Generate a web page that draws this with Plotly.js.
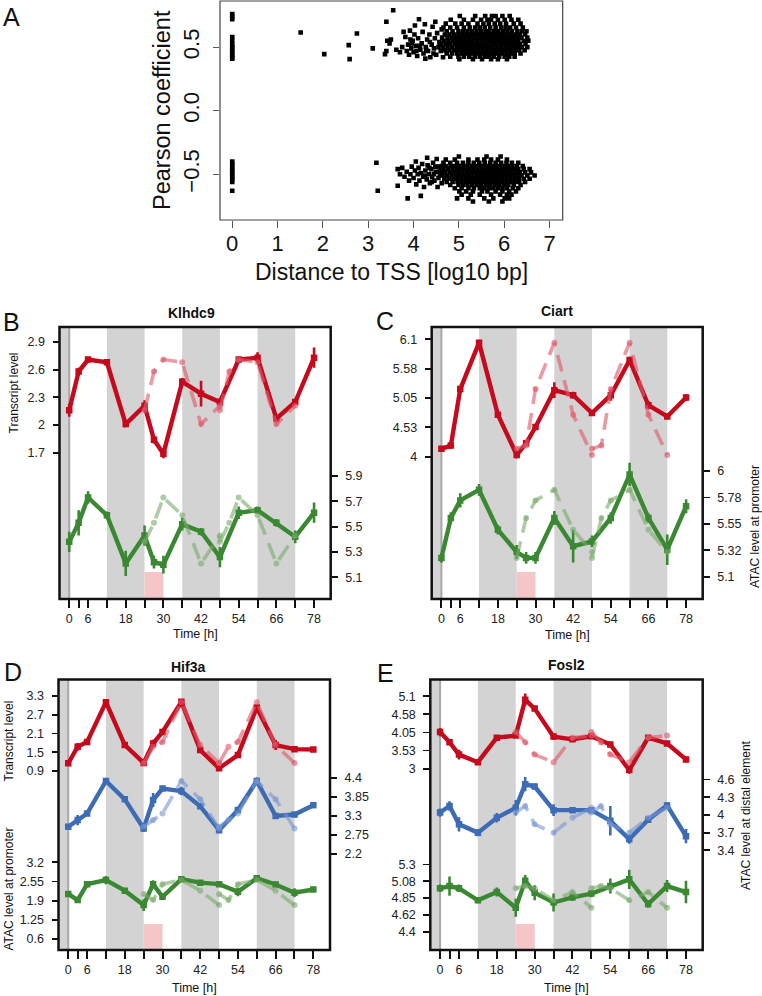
<!DOCTYPE html>
<html><head><meta charset="utf-8">
<script src="https://cdn.plot.ly/plotly-3.0.1.min.js"></script>
<style>html,body{margin:0;padding:0;background:#fff;}#chart{width:762px;height:996px;}</style>
</head><body><div id="chart"></div>
<script>
// ================= Panel A data =================
const tssZeroUpper = [0.76,0.74,0.72,0.58,0.55,0.52,0.5,0.48,0.46,0.44,0.42,0.41];
const tssZeroLower = [-0.4,-0.42,-0.44,-0.46,-0.48,-0.5,-0.52,-0.54,-0.56,-0.63];
const upperSparse = [[1.51,0.615],[2.03,0.445],[2.57,0.516],[2.59,0.406],[2.75,0.607],[3.1,0.49],[3.4,0.7],[3.55,0.79],[3.37,0.445],[3.42,0.55],[3.47,0.53],[3.5,0.56],[3.4,0.47],
 [3.62,0.48],[3.7,0.46],[3.75,0.5],[3.78,0.62],[3.82,0.58],[3.85,0.47],[3.88,0.52],[3.9,0.44],[3.92,0.63],[3.95,0.49],[3.98,0.55],[4.0,0.46],[4.02,0.6],[4.05,0.51],[4.08,0.43],[4.1,0.57],[4.12,0.72],[4.15,0.48],[4.18,0.53],[4.2,0.62],[4.22,0.45],[4.25,0.68],[4.27,0.5],[4.3,0.56],[4.32,0.47],[4.35,0.6],[4.37,0.42],[4.4,0.52],[4.42,0.66],[4.45,0.49],[4.47,0.57],[4.5,0.44],[4.52,0.61],[4.55,0.5],[4.57,0.54],[4.6,0.47],[4.62,0.64],[4.65,0.42],[4.03,0.67],[3.93,0.56],[4.26,0.41],[4.48,0.7],[4.58,0.52],[4.44,0.45],[4.36,0.54],[4.28,0.48],[4.14,0.51],[4.06,0.47],[3.96,0.53]];
const upperCloudY = [0.745,0.715,0.685,0.655,0.625,0.6,0.575,0.55,0.525,0.5,0.475,0.45,0.425,0.405];
const upperCloudX = [
 [5.02,5.36,5.58,5.73,5.81,5.96,6.12],
 [4.82,5.11,5.31,5.49,5.63,5.71,5.86,6.01,6.16,6.31],
 [4.71,4.92,5.06,5.21,5.41,5.54,5.66,5.79,5.91,6.04,6.21,6.36],
 [4.66,4.81,4.96,5.11,5.24,5.36,5.46,5.57,5.69,5.81,5.93,6.03,6.13,6.26,6.41],
 [4.73,4.86,4.99,5.09,5.19,5.29,5.39,5.49,5.59,5.67,5.77,5.87,5.97,6.07,6.17,6.29,6.39,6.49],
 [4.69,4.79,4.89,4.99,5.08,5.17,5.26,5.35,5.44,5.53,5.62,5.71,5.8,5.89,5.98,6.07,6.16,6.25,6.34,6.46],
 [4.63,4.75,4.85,4.94,5.03,5.12,5.21,5.3,5.39,5.48,5.57,5.66,5.75,5.84,5.93,6.02,6.11,6.2,6.29,6.38,6.51],
 [4.67,4.77,4.87,4.96,5.05,5.14,5.23,5.32,5.41,5.5,5.59,5.68,5.77,5.86,5.95,6.04,6.13,6.22,6.31,6.43,6.53],
 [4.61,4.71,4.81,4.91,5.0,5.09,5.18,5.27,5.36,5.45,5.54,5.63,5.72,5.81,5.9,5.99,6.08,6.17,6.26,6.35,6.47],
 [4.65,4.75,4.85,4.95,5.04,5.13,5.22,5.31,5.4,5.49,5.58,5.67,5.76,5.85,5.94,6.03,6.12,6.21,6.3,6.39,6.51],
 [4.69,4.79,4.89,4.98,5.07,5.16,5.25,5.34,5.43,5.52,5.61,5.7,5.79,5.88,5.97,6.06,6.15,6.24,6.33,6.45],
 [4.73,4.85,4.96,5.06,5.15,5.24,5.33,5.42,5.51,5.6,5.69,5.78,5.87,5.96,6.05,6.14,6.23,6.36],
 [4.81,4.99,5.11,5.23,5.35,5.46,5.57,5.67,5.77,5.89,6.01,6.11,6.23],
 [5.01,5.31,5.51,5.71,5.86,6.06]
];
const lowerSparse = [[3.65,-0.46],[3.7,-0.5],[3.75,-0.45],[3.8,-0.52],[3.85,-0.48],[3.9,-0.55],[3.93,-0.5],[3.96,-0.44],[4.0,-0.53],[4.03,-0.47],[4.06,-0.58],[4.09,-0.5],[4.11,-0.45],[4.13,-0.55],[4.16,-0.49],[4.19,-0.42],[4.21,-0.52],[4.23,-0.6],[4.26,-0.47],[4.29,-0.54],[4.31,-0.43],[4.34,-0.5],[4.36,-0.57],[4.39,-0.46],[4.41,-0.52],[4.43,-0.41],[4.46,-0.55],[4.49,-0.48],[4.51,-0.38],[4.53,-0.6],[4.56,-0.44],[4.58,-0.51],[4.6,-0.47],[4.62,-0.57],[3.87,-0.69],[4.16,-0.67],[3.65,-0.59],[3.21,-0.63],[3.18,-0.41],[4.05,-0.4],[4.3,-0.37],[4.45,-0.5],[4.55,-0.53],[4.35,-0.45],[4.25,-0.51],[4.48,-0.44],[4.57,-0.48],[4.4,-0.56]];
const lowerCloudY = [-0.36,-0.385,-0.41,-0.435,-0.46,-0.485,-0.51,-0.535,-0.56,-0.585,-0.61,-0.635,-0.66,-0.69,-0.715];
const lowerCloudX = [
 [5.0,5.61,5.92],
 [4.71,4.91,5.21,5.41,5.56,5.71,5.86,6.06],
 [4.66,4.81,4.96,5.09,5.21,5.33,5.45,5.57,5.69,5.81,5.93,6.05,6.17,6.31],
 [4.62,4.72,4.82,4.92,5.01,5.1,5.19,5.28,5.37,5.46,5.55,5.64,5.73,5.82,5.91,6.0,6.09,6.18,6.28,6.41],
 [4.66,4.76,4.86,4.96,5.05,5.14,5.23,5.32,5.41,5.5,5.59,5.68,5.77,5.86,5.95,6.04,6.13,6.22,6.31,6.43,6.56],
 [4.6,4.7,4.8,4.9,4.99,5.08,5.17,5.26,5.35,5.44,5.53,5.62,5.71,5.8,5.89,5.98,6.07,6.16,6.25,6.34,6.46,6.59],
 [4.64,4.74,4.84,4.94,5.03,5.12,5.21,5.3,5.39,5.48,5.57,5.66,5.75,5.84,5.93,6.02,6.11,6.2,6.29,6.38,6.51,6.67],
 [4.68,4.78,4.88,4.97,5.06,5.15,5.24,5.33,5.42,5.51,5.6,5.69,5.78,5.87,5.96,6.05,6.14,6.23,6.32,6.43,6.56],
 [4.73,4.86,4.97,5.06,5.15,5.24,5.33,5.42,5.51,5.6,5.69,5.78,5.87,5.96,6.05,6.14,6.23,6.33,6.46],
 [4.81,4.99,5.09,5.19,5.29,5.39,5.49,5.59,5.69,5.79,5.89,5.99,6.09,6.21,6.36],
 [4.91,5.06,5.21,5.33,5.46,5.56,5.66,5.76,5.86,5.96,6.06,6.19,6.31],
 [5.01,5.16,5.31,5.51,5.63,5.81,5.96,6.11,6.26],
 [5.06,5.26,5.46,5.71,5.91,6.06,6.16],
 [4.96,5.21,5.56,5.76,6.01,6.11],
 [5.31,5.66,5.96]
];
const distTicks = [0,1,2,3,4,5,6,7];
const pearsonTicks = [-0.5,0,0.5];
const pearsonTickText = ['\u22120.5','0.0','0.5'];

// ================= Time series data =================
const hours = [0,3,6,12,18,24,27,30,36,42,48,54,60,66,72,78];
const fadedHours = [24,27,30,36,42,48,null,48,51,54,60,66,72];
const timeTicks = [0,3,6,12,18,24,30,36,42,48,54,60,66,72,78];
const timeTickText = ['0','','6','','18','','30','','42','','54','','66','','78'];

// B Klhdc9
const klhdc9Transcript = [2.16,2.58,2.71,2.68,2.01,2.21,1.84,1.69,2.47,2.34,2.25,2.71,2.73,2.07,2.25,2.73];
const klhdc9TranscriptErr = [0.07,0.04,0.03,0.03,0.03,0.06,0.04,0.05,0.04,0.14,0.04,0.03,0.06,0.04,0.03,0.11];
const klhdc9TranscriptFaded = [2.16,2.58,2.71,2.68,2.01,2.21,null,2.16,2.58,2.71,2.68,2.01,2.21];
const klhdc9Promoter = [5.38,5.53,5.73,5.59,5.21,5.43,5.22,5.20,5.52,5.46,5.26,5.61,5.63,5.53,5.42,5.61];
const klhdc9PromoterErr = [0.08,0.1,0.05,0.03,0.1,0.08,0.05,0.07,0.05,0.03,0.08,0.05,0.03,0.03,0.05,0.08];
const klhdc9PromoterFaded = [5.38,5.53,5.73,5.59,5.21,5.43,null,5.38,5.53,5.73,5.59,5.21,5.43];
const klhdc9TranscriptTicks = [1.7,2,2.3,2.6,2.9];
const klhdc9PromoterTicks = [5.1,5.3,5.5,5.7,5.9];

// C Ciart
const ciartTranscript = [4.14,4.20,5.21,6.04,4.75,4.03,4.24,4.53,5.19,5.10,4.78,5.10,5.73,4.92,4.72,5.06];
const ciartTranscriptErr = [0.04,0.06,0.05,0.05,0.04,0.05,0.04,0.04,0.14,0.06,0.05,0.1,0.06,0.07,0.04,0.06];
const ciartTranscriptFaded = [4.14,4.20,5.21,6.04,4.75,4.03,null,4.14,4.20,5.21,6.04,4.75,4.03];
const ciartPromoter = [5.26,5.60,5.75,5.84,5.50,5.31,5.26,5.26,5.60,5.36,5.40,5.60,5.97,5.60,5.33,5.70];
const ciartPromoterErr = [0.04,0.05,0.06,0.05,0.04,0.06,0.05,0.05,0.06,0.14,0.05,0.05,0.1,0.04,0.13,0.06];
const ciartPromoterFaded = [5.26,5.60,5.75,5.84,5.50,5.31,null,5.26,5.60,5.75,5.84,5.50,5.31];
const ciartTranscriptTicks = [4,4.525,5.05,5.575,6.1];
const ciartTranscriptTickText = ['4','4.53','5.05','5.58','6.1'];
const ciartPromoterTicks = [5.1,5.325,5.55,5.775,6];
const ciartPromoterTickText = ['5.1','5.32','5.55','5.78','6'];

// D Hif3a
const hif3aTranscript = [1.15,1.68,1.83,3.10,1.73,1.16,1.78,2.15,3.11,1.57,0.99,1.41,2.93,1.73,1.60,1.59];
const hif3aTranscriptErr = [0.06,0.12,0.06,0.1,0.06,0.06,0.12,0.08,0.06,0.06,0.06,0.06,0.08,0.16,0.06,0.06];
const hif3aTranscriptFaded = [1.15,1.68,1.83,3.10,1.73,1.16,null,1.15,1.68,1.83,3.10,1.73,1.16];
const hif3aDistal = [2.99,3.18,3.37,4.31,3.78,2.94,3.76,4.09,4.02,3.58,2.89,3.47,4.31,3.30,3.34,3.61];
const hif3aDistalErr = [0.06,0.15,0.06,0.06,0.06,0.1,0.2,0.08,0.12,0.06,0.06,0.08,0.06,0.06,0.06,0.06];
const hif3aDistalFaded = [2.99,3.18,3.37,4.31,3.78,2.94,null,2.99,3.18,3.37,4.31,3.78,2.94];
const hif3aPromoter = [2.13,1.92,2.46,2.60,2.24,1.75,2.46,2.03,2.63,2.51,2.46,2.20,2.66,2.45,2.17,2.28];
const hif3aPromoterErr = [0.08,0.1,0.06,0.14,0.06,0.2,0.12,0.06,0.06,0.06,0.06,0.15,0.1,0.06,0.15,0.06];
const hif3aPromoterFaded = [2.13,1.92,2.46,2.60,2.24,1.75,null,2.13,1.92,2.46,2.60,2.24,1.75];
const hif3aTranscriptTicks = [0.9,1.5,2.1,2.7,3.3];
const hif3aDistalTicks = [2.2,2.75,3.3,3.85,4.4];
const hif3aPromoterTicks = [0.6,1.25,1.9,2.55,3.2];

// E Fosl2
const fosl2Transcript = [4.06,3.77,3.41,3.19,3.90,3.96,5.00,4.74,3.93,3.85,3.94,3.70,2.96,3.90,3.73,3.27];
const fosl2TranscriptErr = [0.12,0.06,0.14,0.05,0.06,0.06,0.18,0.06,0.1,0.06,0.05,0.06,0.1,0.06,0.06,0.08];
const fosl2TranscriptFaded = [4.06,3.77,3.41,3.19,3.90,3.96,null,4.06,3.77,3.41,3.19,3.90,3.96];
const fosl2Distal = [4.04,4.15,3.84,3.70,3.95,4.12,4.52,4.48,4.08,4.08,4.08,3.90,3.59,3.92,4.16,3.64];
const fosl2DistalErr = [0.07,0.08,0.12,0.06,0.08,0.13,0.12,0.05,0.1,0.04,0.04,0.25,0.08,0.05,0.06,0.12];
const fosl2DistalFaded = [4.04,4.15,3.84,3.70,3.95,4.12,null,4.04,4.15,3.84,3.70,3.95,4.12];
const fosl2Promoter = [4.98,5.01,4.98,4.82,4.93,4.72,5.08,4.92,4.79,4.86,4.91,5.01,5.10,4.77,5.01,4.93];
const fosl2PromoterErr = [0.05,0.13,0.05,0.04,0.06,0.12,0.08,0.1,0.12,0.05,0.05,0.1,0.13,0.05,0.08,0.15];
const fosl2PromoterFaded = [4.98,5.01,4.98,4.82,4.93,4.72,null,4.98,5.01,4.98,4.82,4.93,4.72];
const fosl2TranscriptTicks = [3,3.525,4.05,4.575,5.1];
const fosl2TranscriptTickText = ['3','3.53','4.05','4.58','5.1'];
const fosl2DistalTicks = [3.4,3.7,4,4.3,4.6];
const fosl2PromoterTicks = [4.4,4.625,4.85,5.075,5.3];
const fosl2PromoterTickText = ['4.4','4.62','4.85','5.08','5.3'];

const nightBands = [[12,24],[36,48],[60,72]];

// ================= build =================
const W = 762, H = 996;
const FONT = 'Liberation Sans, Arial, Helvetica, sans-serif';
const px = v => v / W, py = v => 1 - v / H;
const RED = '#c50a1d', BLUE = '#3d6cb4', GREEN = '#3b8833';
const RED_F = 'rgba(222,90,105,0.62)', BLUE_F = 'rgba(120,150,210,0.6)', GREEN_F = 'rgba(120,170,105,0.6)';

const traces = [];
// Panel A
const aX = [], aY = [];
tssZeroUpper.forEach(v => { aX.push(0); aY.push(v); });
tssZeroLower.forEach(v => { aX.push(0); aY.push(v); });
upperSparse.forEach(p => { aX.push(p[0]); aY.push(p[1]); });
lowerSparse.forEach(p => { aX.push(p[0]); aY.push(p[1]); });
upperCloudY.forEach((y, i) => upperCloudX[i].forEach(x => { aX.push(x); aY.push(y); }));
lowerCloudY.forEach((y, i) => lowerCloudX[i].forEach(x => { aX.push(x); aY.push(y); }));
traces.push({x: aX, y: aY, xaxis: 'x', yaxis: 'y', type: 'scatter', mode: 'markers',
  marker: {symbol: 'square', size: 4.6, color: '#000', line: {width: 0}}, hoverinfo: 'skip', showlegend: false});

function series(xa, ya, vals, err, faded, col, fcol) {
  traces.push({x: hours, y: vals, xaxis: xa, yaxis: ya, type: 'scatter', mode: 'lines+markers',
    line: {color: col, width: 4.4}, marker: {symbol: 'square', size: 6.5, color: col},
    error_y: {type: 'data', array: err, visible: true, color: col, thickness: 2.6, width: 0},
    hoverinfo: 'skip', showlegend: false});
  traces.push({x: fadedHours, y: faded, xaxis: xa, yaxis: ya, type: 'scatter', mode: 'lines+markers',
    connectgaps: false, line: {color: fcol, width: 3.6, dash: '17px,9px'},
    marker: {symbol: 'circle', size: 6, color: fcol}, hoverinfo: 'skip', showlegend: false});
}
series('x2','y2', klhdc9Transcript, klhdc9TranscriptErr, klhdc9TranscriptFaded, RED, RED_F);
series('x2','y3', klhdc9Promoter, klhdc9PromoterErr, klhdc9PromoterFaded, GREEN, GREEN_F);
series('x3','y4', ciartTranscript, ciartTranscriptErr, ciartTranscriptFaded, RED, RED_F);
series('x3','y5', ciartPromoter, ciartPromoterErr, ciartPromoterFaded, GREEN, GREEN_F);
series('x4','y6', hif3aTranscript, hif3aTranscriptErr, hif3aTranscriptFaded, RED, RED_F);
series('x4','y7', hif3aDistal, hif3aDistalErr, hif3aDistalFaded, BLUE, BLUE_F);
series('x4','y8', hif3aPromoter, hif3aPromoterErr, hif3aPromoterFaded, GREEN, GREEN_F);
series('x5','y9', fosl2Transcript, fosl2TranscriptErr, fosl2TranscriptFaded, RED, RED_F);
series('x5','y10', fosl2Distal, fosl2DistalErr, fosl2DistalFaded, BLUE, BLUE_F);
series('x5','y11', fosl2Promoter, fosl2PromoterErr, fosl2PromoterFaded, GREEN, GREEN_F);

const layout = {width: W, height: H, margin: {l:0, r:0, t:0, b:0, pad:0},
  paper_bgcolor: '#fff', plot_bgcolor: 'rgba(0,0,0,0)', showlegend: false,
  font: {family: FONT, color: '#111'}, shapes: [], annotations: []};

// Panel A axes
layout.xaxis = {domain: [px(220), px(562.7)], anchor: 'y', range: [-0.27, 7.29], tickvals: distTicks,
  ticks: 'outside', ticklen: 7, tickwidth: 1, tickcolor: '#555', showline: false, showgrid: false, zeroline: false,
  ticklabelstandoff: -3, tickfont: {size: 22, color: '#111', family: FONT}};
layout.yaxis = {domain: [py(220), py(1)], anchor: 'x', range: [-0.86, 0.863], tickvals: pearsonTicks, ticktext: pearsonTickText,
  tickangle: -90, ticks: 'outside', ticklen: 6, tickwidth: 1, tickcolor: '#555', showline: false, showgrid: false, zeroline: false,
  ticklabelstandoff: 5, tickfont: {size: 22, color: '#111', family: FONT}};
layout.shapes.push({type: 'rect', xref: 'x domain', yref: 'y domain', x0: 0, x1: 1, y0: 0, y1: 1, line: {color: '#444', width: 1.2}, layer: 'above'});

const panels = [
  {xa: 'xaxis2', x: 'x2', box: [59.5, 330.7, 327, 599], ys: [
    {key: 'yaxis2', range: [0.114, 3.063], side: 'left', ticks: klhdc9TranscriptTicks},
    {key: 'yaxis3', range: [4.929, 7.076], side: 'right', ticks: klhdc9PromoterTicks}], pink: 27},
  {xa: 'xaxis3', x: 'x3', box: [431.7, 702.7, 327, 599], ys: [
    {key: 'yaxis4', range: [1.454, 6.32], side: 'left', ticks: ciartTranscriptTicks, text: ciartTranscriptTickText},
    {key: 'yaxis5', range: [4.91, 7.227], side: 'right', ticks: ciartPromoterTicks, text: ciartPromoterTickText}], pink: 27},
  {xa: 'xaxis4', x: 'x4', box: [58.5, 330, 679.5, 950], ys: [
    {key: 'yaxis6', range: [-4.81, 3.823], side: 'left', ticks: hif3aTranscriptTicks},
    {key: 'yaxis7', range: [-0.567, 7.236], side: 'right', ticks: hif3aDistalTicks},
    {key: 'yaxis8', range: [0.227, 9.40], side: 'left', ticks: hif3aPromoterTicks}], pink: 26},
  {xa: 'xaxis5', x: 'x5', box: [430.3, 702.7, 679.5, 950], ys: [
    {key: 'yaxis9', range: [-2.247, 5.583], side: 'left', ticks: fosl2TranscriptTicks, text: fosl2TranscriptTickText},
    {key: 'yaxis10', range: [1.715, 6.29], side: 'right', ticks: fosl2DistalTicks},
    {key: 'yaxis11', range: [4.154, 7.777], side: 'left', ticks: fosl2PromoterTicks, text: fosl2PromoterTickText}], pink: 26}
];
panels.forEach(p => {
  const [l, r, t, b] = p.box;
  const baseY = p.ys[0].key.replace('axis', '');
  layout[p.xa] = {domain: [px(l), px(r)], anchor: baseY, range: [-3.1, 83.3], tickvals: timeTicks, ticktext: timeTickText,
    ticks: 'outside', ticklen: 8, tickwidth: 2, tickcolor: '#111', showline: false, showgrid: false, zeroline: false,
    tickfont: {size: 12.5, color: '#222', family: FONT}};
  p.ys.forEach((ya, i) => {
    const o = {domain: [py(b), py(t)], anchor: p.x, range: ya.range, side: ya.side, tickvals: ya.ticks,
      ticks: 'outside', ticklen: 6, tickwidth: 1.8, tickcolor: '#111', showline: false, showgrid: false, zeroline: false,
      ticklabelstandoff: 5, tickfont: {size: 12.5, color: '#222', family: FONT}};
    if (ya.text) o.ticktext = ya.text;
    if (i > 0) o.overlaying = baseY;
    layout[ya.key] = o;
  });
  const ydom = baseY + ' domain';
  layout.shapes.push({type: 'rect', xref: p.x, yref: ydom, x0: -3.1, x1: 0, y0: 0, y1: 1, fillcolor: '#d3d3d3', line: {width: 0}, layer: 'below'});
  layout.shapes.push({type: 'line', xref: p.x, yref: ydom, x0: 0, x1: 0, y0: 0, y1: 1, line: {color: '#a8a8a8', width: 2}, layer: 'below'});
  nightBands.forEach(nb => layout.shapes.push({type: 'rect', xref: p.x, yref: ydom, x0: nb[0], x1: nb[1], y0: 0, y1: 1,
    fillcolor: '#d3d3d3', line: {width: 0}, layer: 'below'}));
  layout.shapes.push({type: 'rect', xref: p.x, yref: ydom, x0: 24, x1: 30, y0: 0, y1: p.pink / (b - t),
    fillcolor: '#f5c6c8', line: {width: 0}, layer: 'below'});
  layout.shapes.push({type: 'rect', xref: p.x + ' domain', yref: ydom, x0: 0, x1: 1, y0: 0, y1: 1,
    line: {color: '#111', width: 2.5}, layer: 'above'});
});

function ann(text, x, y, size, opts) {
  layout.annotations.push(Object.assign({text: text, xref: 'paper', yref: 'paper', x: px(x), y: py(y),
    xanchor: 'center', yanchor: 'middle', showarrow: false, font: {size: size, family: FONT, color: '#111'}}, opts || {}));
}
ann('A', 11, 17, 25); ann('B', 11.5, 322, 25); ann('C', 384.6, 321, 25); ann('D', 12.5, 672, 25); ann('E', 386, 673, 25);
ann('Pearson coefficient', 162, 110, 23.5, {textangle: -90});
ann('Distance to TSS [log10 bp]', 391.5, 272, 23);
ann('<b>Klhdc9</b>', 191.7, 313, 14); ann('<b>Ciart</b>', 556.7, 311, 14);
ann('<b>Hif3a</b>', 188, 666.5, 14); ann('<b>Fosl2</b>', 566.7, 665, 14);
ann('Time [h]', 195, 634, 12.5); ann('Time [h]', 567.5, 635, 12.5);
ann('Time [h]', 194.5, 988, 12.5); ann('Time [h]', 566, 988, 12.5);
ann('Transcript level', 14.4, 393, 12, {textangle: -90});
ann('ATAC level at promoter', 755, 527, 12, {textangle: -90});
ann('Transcript level', 8.5, 741, 12, {textangle: -90});
ann('ATAC level at promoter', 8.5, 889, 12, {textangle: -90});
ann('ATAC level at distal element', 746, 815, 12, {textangle: -90});

Plotly.newPlot('chart', traces, layout, {displayModeBar: false, staticPlot: true});
</script></body></html>
